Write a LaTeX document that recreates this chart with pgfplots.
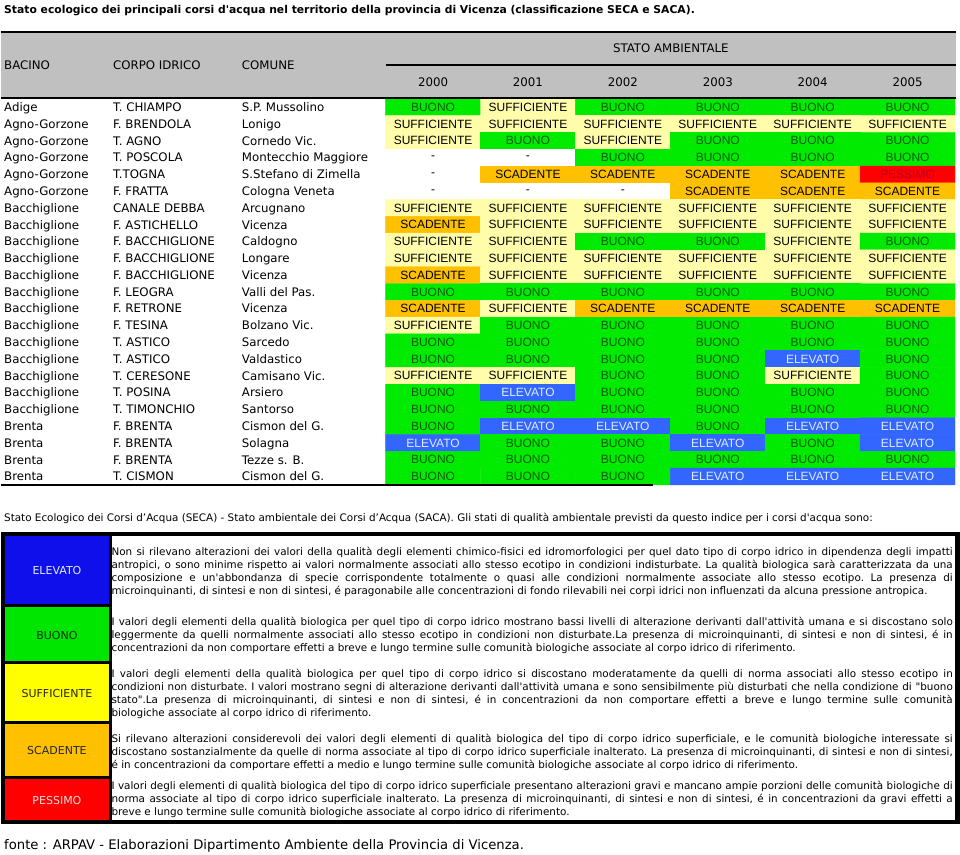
\documentclass[border=0pt]{standalone}
\usepackage{pgfplots}
\pgfplotsset{compat=1.18}
\usepackage{pgfplotstable}
\usepackage{fontspec}
\newfontfamily\verd{DejaVu Sans}
\newfontfamily\arial{Liberation Sans}

\definecolor{hdrgray}{RGB}{192,192,192}
\definecolor{tbuon}{RGB}{0,90,0}
\definecolor{tpess}{RGB}{185,0,35}
\definecolor{telev}{RGB}{225,235,255}
\definecolor{lelev}{RGB}{15,15,235}
\definecolor{lbuon}{RGB}{0,230,0}
\definecolor{lsuff}{RGB}{255,255,0}
\definecolor{lscad}{RGB}{255,192,0}
\definecolor{lpess}{RGB}{255,0,0}

% stato: 0 = -, 1 = ELEVATO, 2 = BUONO, 3 = SUFFICIENTE, 4 = SCADENTE, 5 = PESSIMO
\expandafter\def\csname st0\endcsname{-}
\expandafter\def\csname st1\endcsname{\color{telev}ELEVATO}
\expandafter\def\csname st2\endcsname{\color{tbuon}BUONO}
\expandafter\def\csname st3\endcsname{SUFFICIENTE}
\expandafter\def\csname st4\endcsname{SCADENTE}
\expandafter\def\csname st5\endcsname{\color{tpess}PESSIMO}

% r = riga, c = anno (0 = 2000 ... 5 = 2005), s = stato
\pgfplotstableread[row sep=\\]{
r c s \\
0 0 2 \\ 0 1 3 \\ 0 2 2 \\ 0 3 2 \\ 0 4 2 \\ 0 5 2 \\
1 0 3 \\ 1 1 3 \\ 1 2 3 \\ 1 3 3 \\ 1 4 3 \\ 1 5 3 \\
2 0 3 \\ 2 1 2 \\ 2 2 3 \\ 2 3 2 \\ 2 4 2 \\ 2 5 2 \\
3 0 0 \\ 3 1 0 \\ 3 2 2 \\ 3 3 2 \\ 3 4 2 \\ 3 5 2 \\
4 0 0 \\ 4 1 4 \\ 4 2 4 \\ 4 3 4 \\ 4 4 4 \\ 4 5 5 \\
5 0 0 \\ 5 1 0 \\ 5 2 0 \\ 5 3 4 \\ 5 4 4 \\ 5 5 4 \\
6 0 3 \\ 6 1 3 \\ 6 2 3 \\ 6 3 3 \\ 6 4 3 \\ 6 5 3 \\
7 0 4 \\ 7 1 3 \\ 7 2 3 \\ 7 3 3 \\ 7 4 3 \\ 7 5 3 \\
8 0 3 \\ 8 1 3 \\ 8 2 2 \\ 8 3 2 \\ 8 4 3 \\ 8 5 2 \\
9 0 3 \\ 9 1 3 \\ 9 2 3 \\ 9 3 3 \\ 9 4 3 \\ 9 5 3 \\
10 0 4 \\ 10 1 3 \\ 10 2 3 \\ 10 3 3 \\ 10 4 3 \\ 10 5 3 \\
11 0 2 \\ 11 1 2 \\ 11 2 2 \\ 11 3 2 \\ 11 4 2 \\ 11 5 2 \\
12 0 4 \\ 12 1 3 \\ 12 2 4 \\ 12 3 4 \\ 12 4 4 \\ 12 5 4 \\
13 0 3 \\ 13 1 2 \\ 13 2 2 \\ 13 3 2 \\ 13 4 2 \\ 13 5 2 \\
14 0 2 \\ 14 1 2 \\ 14 2 2 \\ 14 3 2 \\ 14 4 2 \\ 14 5 2 \\
15 0 2 \\ 15 1 2 \\ 15 2 2 \\ 15 3 2 \\ 15 4 1 \\ 15 5 2 \\
16 0 3 \\ 16 1 3 \\ 16 2 2 \\ 16 3 2 \\ 16 4 3 \\ 16 5 2 \\
17 0 2 \\ 17 1 1 \\ 17 2 2 \\ 17 3 2 \\ 17 4 2 \\ 17 5 2 \\
18 0 2 \\ 18 1 2 \\ 18 2 2 \\ 18 3 2 \\ 18 4 2 \\ 18 5 2 \\
19 0 2 \\ 19 1 1 \\ 19 2 1 \\ 19 3 2 \\ 19 4 1 \\ 19 5 1 \\
20 0 1 \\ 20 1 2 \\ 20 2 2 \\ 20 3 1 \\ 20 4 2 \\ 20 5 1 \\
21 0 2 \\ 21 1 2 \\ 21 2 2 \\ 21 3 2 \\ 21 4 2 \\ 21 5 2 \\
22 0 2 \\ 22 1 2 \\ 22 2 2 \\ 22 3 1 \\ 22 4 1 \\ 22 5 1 \\
}\states

\pgfplotstableread[col sep=comma]{
r,bac,corpo,com
0,Adige,T. CHIAMPO,S.P. Mussolino
1,Agno-Gorzone,F. BRENDOLA,Lonigo
2,Agno-Gorzone,T. AGNO,Cornedo Vic.
3,Agno-Gorzone,T. POSCOLA,Montecchio Maggiore
4,Agno-Gorzone,T.TOGNA,S.Stefano di Zimella
5,Agno-Gorzone,F. FRATTA,Cologna Veneta
6,Bacchiglione,CANALE DEBBA,Arcugnano
7,Bacchiglione,F. ASTICHELLO,Vicenza
8,Bacchiglione,F. BACCHIGLIONE,Caldogno
9,Bacchiglione,F. BACCHIGLIONE,Longare
10,Bacchiglione,F. BACCHIGLIONE,Vicenza
11,Bacchiglione,F. LEOGRA,Valli del Pas.
12,Bacchiglione,F. RETRONE,Vicenza
13,Bacchiglione,F. TESINA,Bolzano Vic.
14,Bacchiglione,T. ASTICO,Sarcedo
15,Bacchiglione,T. ASTICO,Valdastico
16,Bacchiglione,T. CERESONE,Camisano Vic.
17,Bacchiglione,T. POSINA,Arsiero
18,Bacchiglione,T. TIMONCHIO,Santorso
19,Brenta,F. BRENTA,Cismon del G.
20,Brenta,F. BRENTA,Solagna
21,Brenta,F. BRENTA,Tezze s. B.
22,Brenta,T. CISMON,Cismon del G.
}\names

\tikzset{
  lt/.style={anchor=base west, inner sep=0pt, font=\verd\fontsize{10.4bp}{12bp}\selectfont\frenchspacing},
  hd/.style={inner sep=0pt, font=\verd\fontsize{11.8bp}{14bp}\selectfont},
  lg/.style={anchor=center, inner sep=0pt, font=\verd\fontsize{11bp}{13bp}\selectfont},
}
\newcommand{\jline}[2]{\node[lt] at (axis cs:110.5,#1) {\makebox[842bp][s]{#2}};}
\newcommand{\nline}[2]{\node[lt] at (axis cs:110.5,#1) {#2};}

\begin{document}
\begin{tikzpicture}
\begin{axis}[
    width=960bp, height=855bp, scale only axis,
    xmin=0, xmax=960, ymin=0, ymax=855,
    y dir=reverse,
    hide axis, clip=false,
    colormap={stati}{rgb255=(255,255,255) rgb255=(51,102,255) rgb255=(0,235,0)
                     rgb255=(255,253,170) rgb255=(255,192,0) rgb255=(255,0,0)},
    colormap access=direct,
  ]
  \path (axis cs:0,0) rectangle (axis cs:960,855);

  % titolo
  \node[anchor=base west, inner sep=0pt, font=\verd\bfseries\fontsize{10.8bp}{13bp}\selectfont]
    at (axis cs:3,13.5) {Stato ecologico dei principali corsi d'acqua nel territorio della provincia di Vicenza (classificazione SECA e SACA).};

  % intestazione
  \addplot[fill=hdrgray, draw=none] coordinates {(0,32) (956,32) (956,98) (0,98)};
  \draw[line width=2bp] (axis cs:0,32) -- (axis cs:956,32);
  \draw[line width=1.2bp] (axis cs:385,65) -- (axis cs:956,65);
  \node[hd, anchor=base west] at (axis cs:3,69.3) {BACINO};
  \node[hd, anchor=base west] at (axis cs:112,69.3) {CORPO IDRICO};
  \node[hd, anchor=base west] at (axis cs:241,69.3) {COMUNE};
  \node[hd, anchor=base] at (axis cs:670.5,52.3) {STATO AMBIENTALE};
  \node[hd, anchor=base] at (axis cs:432.5,86.3) {2000};
  \node[hd, anchor=base] at (axis cs:527.5,86.3) {2001};
  \node[hd, anchor=base] at (axis cs:622.5,86.3) {2002};
  \node[hd, anchor=base] at (axis cs:717.5,86.3) {2003};
  \node[hd, anchor=base] at (axis cs:812.5,86.3) {2004};
  \node[hd, anchor=base] at (axis cs:907.5,86.3) {2005};

  % celle colorate
  \addplot[matrix plot*, mesh/cols=6, point meta=explicit]
    table[x expr={432.5+95*\thisrow{c}}, y expr={107.4+16.8*\thisrow{r}}, meta=s] {\states};
  \addplot[draw=none, mark=none, point meta=explicit symbolic,
    nodes near coords={\csname st\pgfplotspointmeta\endcsname},
    nodes near coords style={anchor=center, inner sep=0pt, font=\arial\fontsize{12bp}{14bp}\selectfont}]
    table[x expr={432.5+95*\thisrow{c}}, y expr={107.4+16.8*\thisrow{r}}, meta=s] {\states};

  % nomi
  \addplot[draw=none, mark=none, point meta=explicit symbolic, nodes near coords,
    nodes near coords style={anchor=base west, inner sep=0pt, font=\verd\fontsize{11.8bp}{14bp}\selectfont}]
    table[x expr=3, y expr={111.7+16.8*\thisrow{r}}, meta=bac] {\names};
  \addplot[draw=none, mark=none, point meta=explicit symbolic, nodes near coords,
    nodes near coords style={anchor=base west, inner sep=0pt, font=\verd\fontsize{11.8bp}{14bp}\selectfont}]
    table[x expr=112, y expr={111.7+16.8*\thisrow{r}}, meta=corpo] {\names};
  \addplot[draw=none, mark=none, point meta=explicit symbolic, nodes near coords,
    nodes near coords style={anchor=base west, inner sep=0pt, font=\verd\fontsize{11.8bp}{14bp}\selectfont}]
    table[x expr=241, y expr={111.7+16.8*\thisrow{r}}, meta=com] {\names};

  \draw[line width=2bp] (axis cs:0,98) -- (axis cs:956,98);
  \draw[line width=2bp] (axis cs:0,485.5) -- (axis cs:653,485.5);

  % legenda
  \node[lt] at (axis cs:3,522) {Stato Ecologico dei Corsi d’Acqua (SECA) - Stato ambientale dei Corsi d’Acqua (SACA). Gli stati di qualità ambientale previsti da questo indice per i corsi d'acqua sono:};

  \addplot[fill=black, draw=none] coordinates {(0,533) (111,533) (111,825) (0,825)};
  \addplot[fill=lelev, draw=none] coordinates {(4.5,537) (108,537) (108,605) (4.5,605)};
  \addplot[fill=lbuon, draw=none] coordinates {(4.5,608) (108,608) (108,662) (4.5,662)};
  \addplot[fill=lsuff, draw=none] coordinates {(4.5,665) (108,665) (108,722) (4.5,722)};
  \addplot[fill=lscad, draw=none] coordinates {(4.5,725) (108,725) (108,777) (4.5,777)};
  \addplot[fill=lpess, draw=none] coordinates {(4.5,780) (108,780) (108,821) (4.5,821)};
  \fill (axis cs:0,533) rectangle (axis cs:960,537);
  \fill (axis cs:0,821) rectangle (axis cs:960,825);
  \fill (axis cs:955,533) rectangle (axis cs:960,825);

  \node[lg, text=telev] at (axis cs:56,571) {ELEVATO};
  \node[lg, text=black!80!green] at (axis cs:56,636) {BUONO};
  \node[lg, text=black!85] at (axis cs:56,694) {SUFFICIENTE};
  \node[lg, text=black!85] at (axis cs:56,751) {SCADENTE};
  \node[lg, text=red!15!white] at (axis cs:56,801) {PESSIMO};

  \jline{556}{Non si rilevano alterazioni dei valori della qualità degli elementi chimico-fisici ed idromorfologici per quel dato tipo di corpo idrico in dipendenza degli impatti}
  \jline{569}{antropici, o sono minime rispetto ai valori normalmente associati allo stesso ecotipo in condizioni indisturbate. La qualità biologica sarà caratterizzata da una}
  \jline{582}{composizione e un'abbondanza di specie corrispondente totalmente o quasi alle condizioni normalmente associate allo stesso ecotipo. La presenza di}
  \nline{595}{microinquinanti, di sintesi e non di sintesi, é paragonabile alle concentrazioni di fondo rilevabili nei corpi idrici non influenzati da alcuna pressione antropica.}

  \jline{626}{I valori degli elementi della qualità biologica per quel tipo di corpo idrico mostrano bassi livelli di alterazione derivanti dall'attività umana e si discostano solo}
  \jline{639}{leggermente da quelli normalmente associati allo stesso ecotipo in condizioni non disturbate.La presenza di microinquinanti, di sintesi e non di sintesi, é in}
  \nline{652}{concentrazioni da non comportare effetti a breve e lungo termine sulle comunità biologiche associate al corpo idrico di riferimento.}

  \jline{678}{I valori degli elementi della qualità biologica per quel tipo di corpo idrico si discostano moderatamente da quelli di norma associati allo stesso ecotipo in}
  \jline{691}{condizioni non disturbate. I valori mostrano segni di alterazione derivanti dall'attività umana e sono sensibilmente più disturbati che nella condizione di "buono}
  \jline{704}{stato".La presenza di microinquinanti, di sintesi e non di sintesi, é in concentrazioni da non comportare effetti a breve e lungo termine sulle comunità}
  \nline{717}{biologiche associate al corpo idrico di riferimento.}

  \jline{743}{Si rilevano alterazioni considerevoli dei valori degli elementi di qualità biologica del tipo di corpo idrico superficiale, e le comunità biologiche interessate si}
  \jline{756}{discostano sostanzialmente da quelle di norma associate al tipo di corpo idrico superficiale inalterato. La presenza di microinquinanti, di sintesi e non di sintesi,}
  \nline{769}{é in concentrazioni da comportare effetti a medio e lungo termine sulle comunità biologiche associate al corpo idrico di riferimento.}

  \jline{790}{I valori degli elementi di qualità biologica del tipo di corpo idrico superficiale presentano alterazioni gravi e mancano ampie porzioni delle comunità biologiche di}
  \jline{803}{norma associate al tipo di corpo idrico superficiale inalterato. La presenza di microinquinanti, di sintesi e non di sintesi, é in concentrazioni da gravi effetti a}
  \nline{816}{breve e lungo termine sulle comunità biologiche associate al corpo idrico di riferimento.}

  % fonte
  \node[anchor=base west, inner sep=0pt, font=\verd\fontsize{13.2bp}{15bp}\selectfont]
    at (axis cs:3,850) {fonte : ARPAV - Elaborazioni Dipartimento Ambiente della Provincia di Vicenza.};
\end{axis}
\end{tikzpicture}
\end{document}
